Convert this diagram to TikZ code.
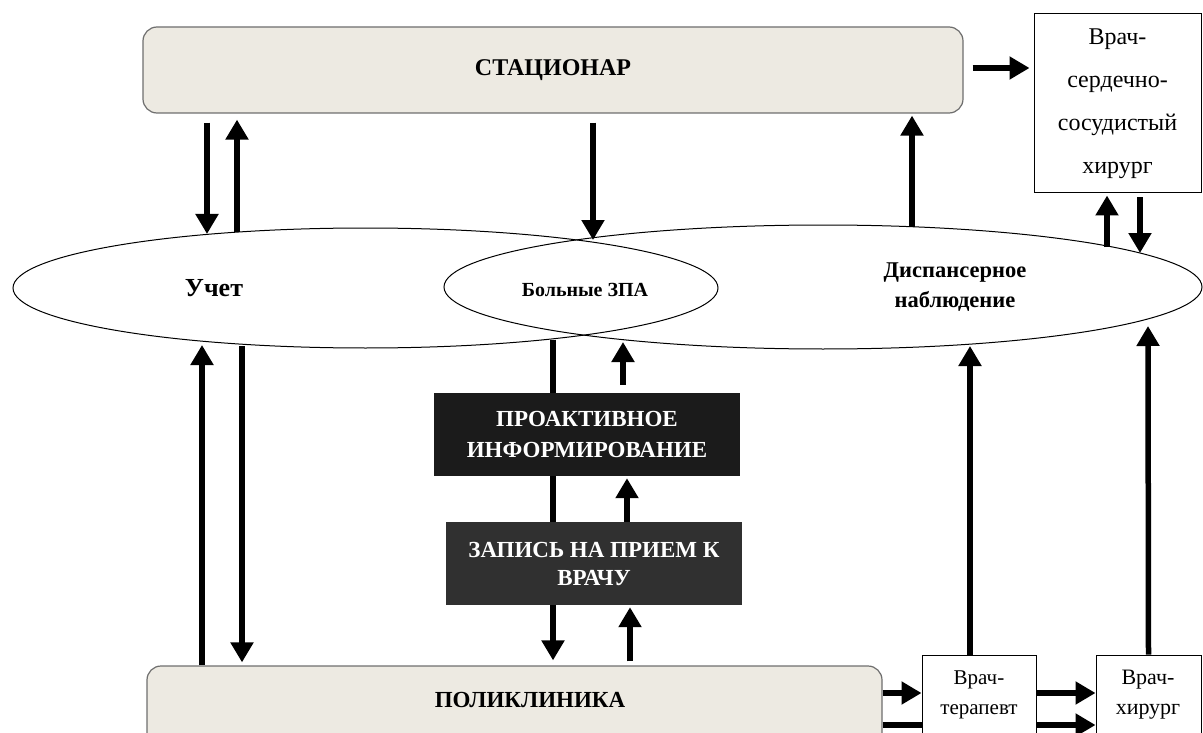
\documentclass[tikz,border=0pt]{standalone}
\usepackage{fontspec}
\setmainfont{Liberation Serif}
\usetikzlibrary{shapes.geometric,arrows.meta,calc}
\definecolor{beige}{HTML}{EDEAE2}
\definecolor{darkA}{HTML}{1B1B1B}
\definecolor{darkB}{HTML}{303030}
\definecolor{framegray}{HTML}{6E6E6E}
\begin{document}
\begin{tikzpicture}[x=1pt,y=-1pt,
  roundbox/.style={draw=framegray, line width=1.2pt, fill=beige, rounded corners=14pt, inner sep=0pt},
  whitebox/.style={draw=black, line width=1pt, fill=white, inner sep=0pt},
  darkbox/.style={fill=#1, inner sep=0pt, text=white, font=\bfseries\fontsize{23}{31}\selectfont, align=center},
  oval/.style={draw=black, line width=1pt, ellipse, inner sep=0pt},
  arr/.style={line width=5.5pt, -{Triangle[length=20pt,width=22pt]}},
  lbl/.style={inner sep=0pt, align=center}]
\useasboundingbox (0,0) rectangle (1203,733);

% ovals
\node[oval, minimum width=705pt, minimum height=120pt] (L) at (365.5,288) {};
\node[oval, minimum width=758pt, minimum height=124pt] (R) at (823,287) {};
\node[lbl, font=\bfseries\fontsize{26}{30}\selectfont] (uchet) at (214,288) {Учет};
\node[lbl, font=\bfseries\fontsize{20}{24}\selectfont] (zpa) at (585,290) {Больные ЗПА};
\node[lbl, font=\bfseries\fontsize{22.5}{30}\selectfont] (disp) at (955,287) {Диспансерное\\наблюдение};

% points on the ovals
\coordinate (l207) at (207,234);
\coordinate (l237) at (237,232);
\coordinate (c593) at (593,240);
\coordinate (r912) at (912,227);
\coordinate (r1107) at (1107,247);
\coordinate (r1140) at (1140,253);
\coordinate (l202) at (202,345);
\coordinate (l242) at (242,346);
\coordinate (l553) at (553,340);
\coordinate (r623) at (623,342);
\coordinate (r970) at (970,346);
\coordinate (r1148) at (1148,326);

% top boxes
\node[roundbox, minimum width=820pt, minimum height=86pt, font=\bfseries\fontsize{24}{28}\selectfont] (stac) at (553,70) {СТАЦИОНАР};
\node[whitebox, minimum width=167pt, minimum height=179pt, font=\fontsize{24}{43}\selectfont, align=center] (vss) at (1117.5,103.5) {Врач-\\сердечно-\\сосудистый\\хирург};

% bottom boxes
\node[roundbox, minimum width=735pt, minimum height=90pt] (pol) at (514.5,711) {};
\node[lbl, font=\bfseries\fontsize{23}{26}\selectfont] (polt) at (530,700) {ПОЛИКЛИНИКА};
\node[whitebox, minimum width=105pt, minimum height=95pt] (hir) at (1148.5,702.5) {};
\node[lbl, font=\fontsize{22}{30}\selectfont] (hirt) at (1148,695) {Врач-\\хирург};

% arrows drawn behind boxes
\draw[arr] (l553) -- ($(pol.north -| l553)+(0,-5)$);
\draw[arr] ($(pol.east)+(0,14)$) -- ($(hir.west)+(0,22.5)$);

\node[whitebox, minimum width=114pt, minimum height=95pt] (ter) at (979,702.5) {};
\node[lbl, font=\fontsize{21}{30}\selectfont] (tert) at (979,695) {Врач-\\терапевт};

% middle dark boxes
\node[darkbox=darkA, minimum width=306pt, minimum height=83pt] (pro) at (587,434.5) {ПРОАКТИВНОЕ\\ИНФОРМИРОВАНИЕ};
\node[darkbox=darkB, minimum width=296pt, minimum height=83pt, font=\bfseries\fontsize{23}{28}\selectfont] (zap) at (594,563.5) {ЗАПИСЬ НА ПРИЕМ К\\ВРАЧУ};

% arrows
\draw[arr] ($(stac.south -| l207)+(0,9)$) -- (l207);
\draw[arr] (l237) -- ($(stac.south -| l237)+(0,6)$);
\draw[arr] ($(stac.south -| c593)+(0,9)$) -- (c593);
\draw[arr] (r912) -- ($(stac.south -| r912)+(0,2)$);
\draw[arr] ($(stac.east)+(9,-2)$) -- ($(stac.east -| vss.west)+(-4,-2)$);
\draw[arr] (r1107) -- ($(vss.south -| r1107)+(0,2)$);
\draw[arr] ($(vss.south -| r1140)+(0,4)$) -- (r1140);
\draw[arr] (pol.north -| l202) -- (l202);
\draw[arr] (l242) -- ($(pol.north -| l242)+(0,-3)$);
\draw[arr] ($(pro.north -| r623)+(0,-8)$) -- (r623);
\draw[arr] ($(zap.north)+(33,0)$) -- ($(pro.south)+(40,2)$);
\draw[arr] ($(pol.north)+(115.5,-4)$) -- ($(zap.south)+(36,2)$);
\draw[arr] ($(ter.north)+(-9,0)$) -- (r970);
\draw[arr] (hir.north) -- (r1148);
\draw[arr] ($(pol.east)+(0,-18)$) -- ($(ter.west)+(0,-9.5)$);
\draw[arr] ($(ter.east)+(0,-9.5)$) -- ($(hir.west)+(0,-9.5)$);
\end{tikzpicture}
\end{document}
